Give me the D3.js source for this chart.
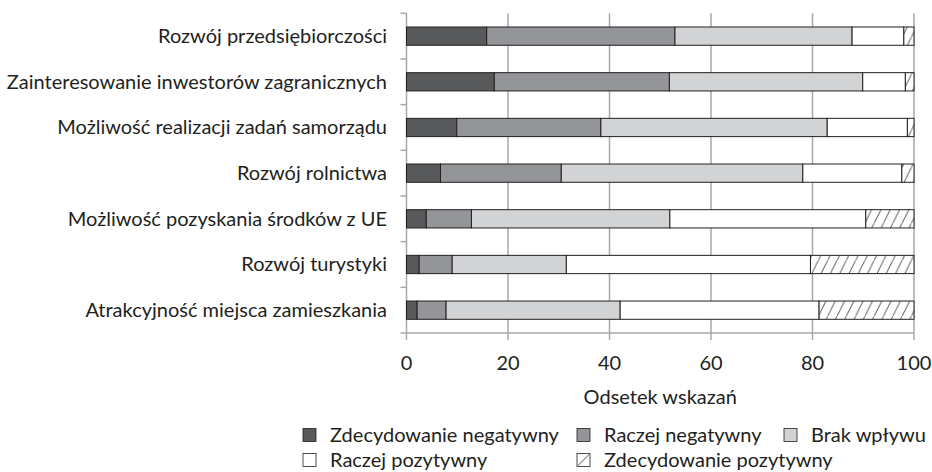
<!DOCTYPE html>
<html>
<head>
<meta charset="utf-8">
<script src="https://cdn.jsdelivr.net/npm/d3@7"></script>
<style>
  body { margin: 0; background: #fff; }
  text { font-family: Lato, "Open Sans", sans-serif; fill: #231f20; }
</style>
</head>
<body>
<svg width="932" height="472"></svg>
<script>
  // values (percent of answers)
  var categories = [
    "Rozwój przedsiębiorczości",
    "Zainteresowanie inwestorów zagranicznych",
    "Możliwość realizacji zadań samorządu",
    "Rozwój rolnictwa",
    "Możliwość pozyskania środków z UE",
    "Rozwój turystyki",
    "Atrakcyjność miejsca zamieszkania"
  ]
  var seriesNames = ["Zdecydowanie negatywny", "Raczej negatywny", "Brak wpływu", "Raczej pozytywny", "Zdecydowanie pozytywny"]
  var zdecNegatywny = [15.8, 17.3, 9.9, 6.7, 3.9, 2.5, 2.1]
  var raczejNegatywny = [37.1, 34.5, 28.4, 23.8, 8.9, 6.5, 5.7]
  var brakWplywu = [34.9, 38.1, 44.6, 47.6, 39.1, 22.5, 34.3]
  var raczejPozytywny = [10.2, 8.4, 15.8, 19.5, 38.6, 48.1, 39.2]
  var zdecPozytywny = [2.0, 1.7, 1.3, 2.4, 9.5, 20.4, 18.7]
  var xTicks = [0, 20, 40, 60, 80, 100]

  var fills = ["#58595b", "#939598", "#d1d3d4", "#ffffff", "url(#hatch)"]

  var rows = categories.map(function (c, i) {
    var r = { cat: c }
    r[seriesNames[0]] = zdecNegatywny[i]
    r[seriesNames[1]] = raczejNegatywny[i]
    r[seriesNames[2]] = brakWplywu[i]
    r[seriesNames[3]] = raczejPozytywny[i]
    r[seriesNames[4]] = zdecPozytywny[i]
    return r
  })

  var svg = d3.select("svg")
  var plotLeft = 406.5, plotRight = 914, plotTop = 13.3, plotBottom = 333
  var fontSize = 20

  // hatch for "Zdecydowanie pozytywny"
  var pat = svg.append("defs").append("pattern")
    .attr("id", "hatch")
    .attr("patternUnits", "userSpaceOnUse")
    .attr("width", 9.3).attr("height", 18.6)
  pat.append("rect").attr("width", 9.3).attr("height", 18.6).attr("fill", "#fff")
  pat.append("path")
    .attr("d", "M-0.5,19.6 L9.8,-1")
    .attr("stroke", "#231f20").attr("stroke-width", 0.8)

  var x = d3.scaleLinear().domain([0, 100]).range([plotLeft, plotRight])
  var y = d3.scaleBand().domain(categories).range([plotTop, plotBottom]).paddingInner(0.6).paddingOuter(0.3)
  var yb = d3.scaleLinear().domain([0, categories.length]).range([plotTop, plotBottom])

  var grey = "#a7a9ac"

  // gridlines
  svg.append("g").selectAll("line")
    .data(xTicks.slice(1))
    .enter().append("line")
    .attr("x1", function (d) { return x(d) }).attr("x2", function (d) { return x(d) })
    .attr("y1", plotTop).attr("y2", plotBottom)
    .attr("stroke", grey).attr("stroke-width", 1.5)

  // y axis, ticks sit between categories
  svg.append("line")
    .attr("x1", plotLeft).attr("x2", plotLeft).attr("y1", plotTop).attr("y2", plotBottom)
    .attr("stroke", grey).attr("stroke-width", 1.5)
  svg.append("g").selectAll("line")
    .data(d3.range(categories.length + 1))
    .enter().append("line")
    .attr("x1", plotLeft - 6).attr("x2", plotLeft)
    .attr("y1", function (d) { return yb(d) }).attr("y2", function (d) { return yb(d) })
    .attr("stroke", grey).attr("stroke-width", 1.5)

  // x axis
  svg.append("line")
    .attr("x1", plotLeft).attr("x2", plotRight).attr("y1", plotBottom).attr("y2", plotBottom)
    .attr("stroke", grey).attr("stroke-width", 1.5)
  svg.append("g").selectAll("line")
    .data(xTicks)
    .enter().append("line")
    .attr("x1", function (d) { return x(d) }).attr("x2", function (d) { return x(d) })
    .attr("y1", plotBottom).attr("y2", plotBottom + 7)
    .attr("stroke", grey).attr("stroke-width", 1.5)

  svg.append("g").selectAll("text")
    .data(xTicks)
    .enter().append("text")
    .attr("x", function (d) { return x(d) })
    .attr("y", 363)
    .attr("dy", "0.35em")
    .attr("text-anchor", "middle")
    .attr("font-size", fontSize)
    .text(function (d) { return d })

  svg.append("text")
    .attr("x", (plotLeft + plotRight) / 2).attr("y", 397)
    .attr("dy", "0.35em")
    .attr("text-anchor", "middle")
    .attr("font-size", fontSize)
    .text("Odsetek wskazań")

  // category labels
  svg.append("g").selectAll("text")
    .data(categories)
    .enter().append("text")
    .attr("x", 387)
    .attr("y", function (d) { return y(d) + y.bandwidth() / 2 })
    .attr("dy", "0.35em")
    .attr("text-anchor", "end")
    .attr("font-size", fontSize)
    .text(function (d) { return d })

  // stacked bars
  var stacked = d3.stack().keys(seriesNames)(rows)
  svg.append("g").selectAll("g")
    .data(stacked)
    .enter().append("g")
    .attr("fill", function (d, i) { return fills[i] })
    .selectAll("rect")
    .data(function (d) { return d })
    .enter().append("rect")
    .attr("x", function (d) { return x(d[0]) })
    .attr("width", function (d) { return x(d[1]) - x(d[0]) })
    .attr("y", function (d) { return y(d.data.cat) })
    .attr("height", y.bandwidth())
    .attr("stroke", "#231f20").attr("stroke-width", 1)

  // legend
  var legendPos = [
    { x: 303, y: 435 }, { x: 577, y: 435 }, { x: 784, y: 435 },
    { x: 303, y: 460 }, { x: 577, y: 460 }
  ]
  var legend = svg.append("g").selectAll("g")
    .data(seriesNames)
    .enter().append("g")
    .attr("transform", function (d, i) { return "translate(" + legendPos[i].x + "," + legendPos[i].y + ")" })
  legend.append("rect")
    .attr("x", 0).attr("y", -6.5).attr("width", 13).attr("height", 13)
    .attr("fill", function (d, i) { return i == 4 ? "#fff" : fills[i] })
    .attr("stroke", "#231f20").attr("stroke-width", 0.8)
  legend.filter(function (d, i) { return i == 4 }).append("line")
    .attr("x1", 1).attr("y1", 5.5).attr("x2", 12).attr("y2", -5.5)
    .attr("stroke", "#231f20").attr("stroke-width", 0.8)
  legend.append("text")
    .attr("x", 27).attr("y", 0).attr("dy", "0.35em")
    .attr("font-size", fontSize)
    .text(function (d) { return d })
</script>
</body>
</html>
